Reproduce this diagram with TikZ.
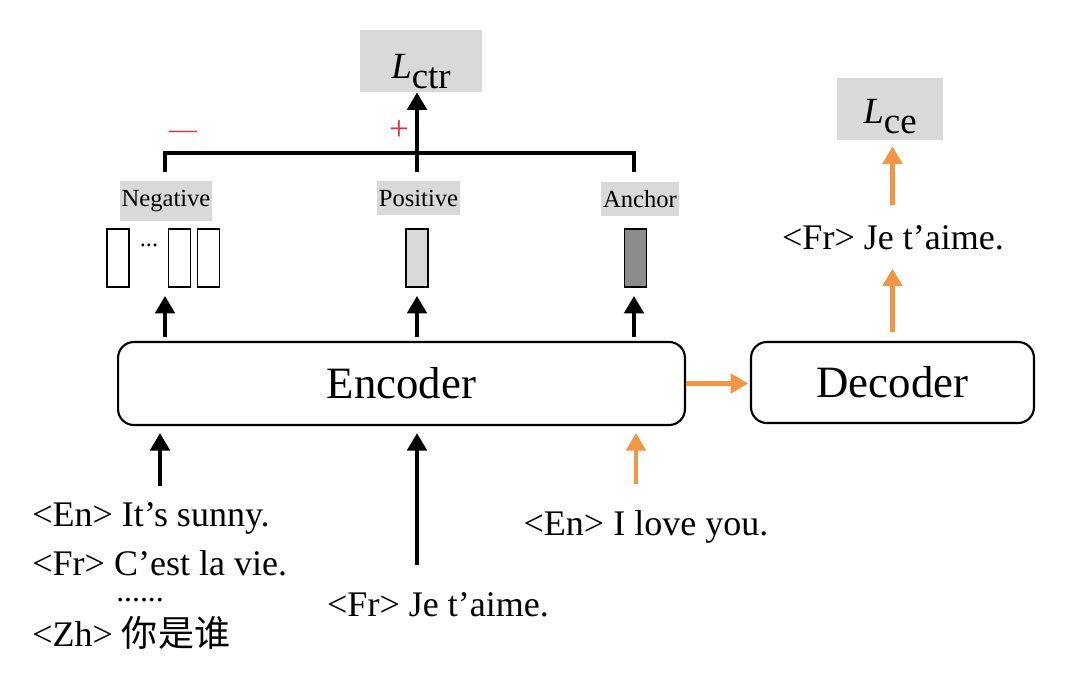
\documentclass[tikz,border=0pt]{standalone}
\usepackage{fontspec}
\setmainfont{Liberation Serif}
\newfontfamily\zhfont{Noto Sans CJK SC}
\usetikzlibrary{arrows.meta,calc}
\definecolor{ArrOrange}{RGB}{240,150,70}
\definecolor{SignRed}{RGB}{222,50,70}
\definecolor{TagGray}{RGB}{217,217,217}

\tikzset{
  arr/.style={line width=2.4pt,-{Triangle[length=10pt,width=11pt]}},
  oarr/.style={arr,color=ArrOrange},
  coder/.style={draw,line width=1.2pt,rounded corners=9pt,font=\fontsize{25.5}{30}\selectfont},
  vec/.style={draw,line width=1pt,minimum width=0.44cm,minimum height=1.16cm,inner sep=0pt},
  tag/.style={fill=TagGray,inner xsep=1pt,inner ysep=5pt,font=\fontsize{14}{16}\selectfont},
  loss/.style={fill=TagGray,minimum width=2.46cm,minimum height=1.24cm,inner sep=0pt,
    text depth=0pt,font=\fontsize{21}{24}\selectfont},
  sent/.style={inner sep=0pt,font=\fontsize{20.5}{24}\selectfont},
  sign/.style={color=SignRed,inner sep=0pt,font=\fontsize{20}{22}\selectfont}
}
\newcommand\lossname[1]{\textit{L}\raisebox{-5.7pt}[0pt][0pt]{#1}}

\begin{document}
\begin{tikzpicture}[x=0.02cm,y=-0.02cm]
\useasboundingbox (0,0) rectangle (1080,681);

\node[coder,minimum width=11.34cm,minimum height=1.66cm] (enc) at (401.5,383.5) {Encoder};
\node[coder,minimum width=5.66cm,minimum height=1.62cm] (dec) at (892.5,382.5) {Decoder};

\node[loss,text height=20pt] (lctr) at (421,61) {\lossname{ctr}};
\node[loss,text height=16pt,minimum width=2.12cm] (lce) at (890,109) {\lossname{ce}};

\node[tag] (neg) at (166,201) {Negative};
\node[tag] (pos) at (418.5,198) {Positive};
\node[tag] (anc) at (640,199) {Anchor};

\node[vec] (n1) at (118,258) {};
\node[inner sep=0pt,anchor=base,font=\fontsize{14}{16}\selectfont] (dots) at (149,246) {...};
\node[vec] (n2) at (179.5,258) {};
\node[vec] (n3) at (208.5,258) {};
\node[vec,fill=TagGray] (pv) at (417,258) {};
\node[vec,fill=black!45] (av) at (635.5,258) {};

\coordinate (bl) at (165,172);
\coordinate (bm) at (417,172);
\coordinate (br) at (634,172);
\draw[line width=2.4pt] (bl) -- (bl |- 0,153) -- (br |- 0,153) -- (br);
\draw[arr] (bm) -- (bm |- lctr.south);
\node[sign,font=\fontsize{16}{18}\selectfont] (minus) at (183,135) {—};
\node[sign] (plus) at (399,131) {+};

\draw[arr,shorten <=2pt,shorten >=0.16cm] (enc.north -| bl) -- (bl |- n1.south);
\draw[arr,shorten <=2pt,shorten >=0.16cm] (enc.north -| bm) -- (bm |- pv.south);
\draw[arr,shorten <=2pt,shorten >=0.16cm] (enc.north -| br) -- (br |- av.south);

\node[sent,anchor=west] (s1) at (32,518) {<En> It’s sunny.};
\node[sent,anchor=west] (s2) at (32,563) {<Fr> C’est la vie.};
\node[sent,anchor=base,text height=2pt,font=\fontsize{18}{20}\selectfont] (s3) at (140,601) {......};
\node[sent,anchor=west] (s4) at (32,633) {<Zh> {\zhfont 你是谁}};
\node[sent] (fr) at (438,605) {<Fr> Je t’aime.};
\node[sent] (en) at (646,527) {<En> I love you.};

\coordinate (in1) at (160,486);
\coordinate (in2) at (417,565);
\coordinate (in3) at (636,484);
\draw[arr,shorten >=0.14cm] (in1) -- (in1 |- enc.south);
\draw[arr,shorten >=0.14cm] (in2) -- (in2 |- enc.south);
\draw[oarr,shorten >=0.14cm] (in3) -- (in3 |- enc.south);

\draw[oarr,shorten >=1pt] (enc.east) -- (enc.east -| dec.west);
\node[sent] (out) at (893,238) {<Fr> Je t’aime.};
\draw[oarr,shorten <=0.18cm,shorten >=0.36cm] (dec.north) -- (dec.north |- out.south);
\draw[oarr,shorten <=0.4cm,shorten >=0.12cm] (dec.north |- out.north) -- (dec.north |- lce.south);
\end{tikzpicture}
\end{document}
